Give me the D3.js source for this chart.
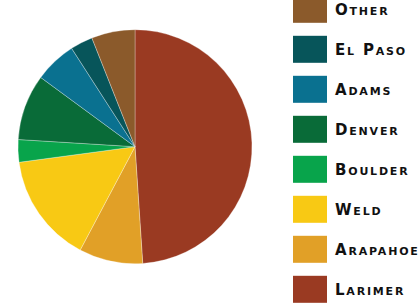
<!DOCTYPE html>
<html>
<head>
<meta charset="utf-8">
<script src="https://cdn.jsdelivr.net/npm/d3@7"></script>
<style>
  body { margin: 0; background: #fff; }
  .legend text { font-family: "DejaVu Sans", sans-serif; font-weight: bold; font-variant: small-caps; font-size: 15px; letter-spacing: 1.8px; fill: #111; }
</style>
</head>
<body>
<div id="chart"></div>
<script>
// counties, clockwise from 12 o'clock
var counties = ["Larimer", "Arapahoe", "Weld", "Boulder", "Denver", "Adams", "El Paso", "Other"];
var shares = [48.9, 8.8, 15.1, 3.1, 9.1, 5.8, 3.1, 6.0];
var colors = ["#9a3a22", "#e1a027", "#f8c914", "#08a44b", "#096b38", "#0a7190", "#07555a", "#8b5a2b"];
// legend reads bottom to top in the same order
var legendOrder = ["Other", "El Paso", "Adams", "Denver", "Boulder", "Weld", "Arapahoe", "Larimer"];

var width = 420, height = 304;
var svg = d3.select('#chart').append('svg')
    .attr('width', width)
    .attr('height', height);

var color = d3.scaleOrdinal().domain(counties).range(colors);

var pie = d3.pie().sort(null).value(function(d){ return d.v; });
var arc = d3.arc().innerRadius(0).outerRadius(117);

var data = counties.map(function(c, i){ return {name: c, v: shares[i]}; });

svg.append('g')
    .attr('transform', 'translate(135,146.7)')
    .selectAll('path')
    .data(pie(data))
    .enter()
    .append('path')
    .attr('d', arc)
    .attr('fill', function(d){ return color(d.data.name); })
    .attr('stroke', '#fff')
    .attr('stroke-width', 0.3);

var y = d3.scalePoint().domain(legendOrder).range([9.3, 289.3]);

var legend = svg.append('g').attr('class', 'legend')
    .selectAll('g')
    .data(legendOrder)
    .enter()
    .append('g')
    .attr('transform', function(d){ return 'translate(293,' + y(d) + ')'; });

legend.append('rect')
    .attr('x', 0)
    .attr('y', -13.5)
    .attr('width', 34)
    .attr('height', 27)
    .attr('fill', function(d){ return color(d); });

legend.append('text')
    .attr('x', 42)
    .attr('y', 5.5)
    .text(function(d){ return d; });
</script>
</body>
</html>
